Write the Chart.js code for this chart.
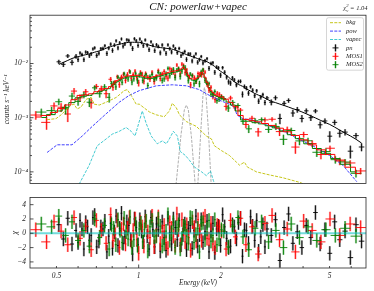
<!DOCTYPE html>
<html>
<head>
<meta charset="utf-8">
<title>CN: powerlaw+vapec</title>
<script src="https://cdn.jsdelivr.net/npm/chart.js@4.4.1/dist/chart.umd.min.js"></script>
<style>
  html, body { margin: 0; padding: 0; background: #ffffff; }
  #wrap { position: relative; width: 374px; height: 291px; overflow: hidden; background: #fff; }
  #top { position: absolute; left: 0; top: 0; width: 374px; height: 190px; }
  #bot { position: absolute; left: 0; top: 189px; width: 374px; height: 102px; }
</style>
</head>
<body>
<div id="wrap">
  <canvas id="top" width="374" height="190"></canvas>
  <canvas id="bot" width="374" height="102"></canvas>
</div>
<script>
// ---------------- text / ticks ----------------
const titleText = 'CN: powerlaw+vapec';
const chiValue = '1.04';
const legendLabels = ['bkg', 'pow', 'vapec', 'pn', 'MOS1', 'MOS2'];
const xTickLabels = [0.5, 1, 2, 5];
const yTickValues = [1e-4, 1e-3, 1e-2];
const yTickText = ['10\u207B\u2074', '10\u207B\u00B3', '10\u207B\u00B2'];
const rTickValues = [-4, -2, 0, 2, 4];
const xMin = 0.4, xMax = 6.8;
const yMin = 6.1e-5, yMax = 0.078;
const rMin = -4.85, rMax = 5.0;

// ---------------- pn (EPIC-pn) ----------------
const pnE = [0.51,0.53,0.55,0.57,0.59,0.60,0.61,0.62,0.63,0.64,0.65,0.66,0.67,0.68,0.69,0.702,0.715,0.727,0.74,0.752,0.765,0.777,0.79,0.802,0.815,0.827,0.84,0.852,0.865,0.877,0.89,0.905,0.92,0.935,0.95,0.965,0.98,0.995,1.01,1.025,1.04,1.057,1.075,1.092,1.11,1.127,1.145,1.162,1.18,1.20,1.22,1.24,1.26,1.28,1.30,1.32,1.34,1.362,1.385,1.407,1.43,1.452,1.475,1.497,1.52,1.545,1.57,1.595,1.62,1.645,1.67,1.695,1.72,1.75,1.78,1.81,1.84,1.87,1.90,1.93,1.96,1.995,2.03,2.065,2.10,2.135,2.17,2.205,2.24,2.28,2.32,2.36,2.40,2.44,2.48,2.525,2.57,2.615,2.66,2.705,2.75,2.80,2.85,2.90,2.95,3.06,3.17,3.29,3.41,3.54,3.67,3.81,3.96,4.11,4.27,4.44,4.62,4.81,5.01,5.22,5.45,5.70,5.96,6.25,6.55];
const pnV = [0.01075,0.00966,0.01379,0.01054,0.01362,0.01183,0.01567,0.01467,0.01178,0.0163,0.01587,0.01389,0.01503,0.01858,0.01944,0.01408,0.0155,0.01876,0.01897,0.02124,0.01536,0.01926,0.0228,0.01747,0.02184,0.02622,0.01944,0.02408,0.0284,0.02087,0.02294,0.02741,0.02676,0.02292,0.01897,0.02865,0.02628,0.02154,0.02834,0.02468,0.02133,0.02723,0.02178,0.01805,0.02517,0.02174,0.0173,0.02219,0.0207,0.01576,0.022,0.01837,0.01543,0.02208,0.01885,0.01628,0.02111,0.01883,0.01587,0.01899,0.01395,0.01525,0.01667,0.01191,0.015,0.01501,0.01115,0.01342,0.01514,0.01053,0.01181,0.01348,0.01021,0.01128,0.01227,0.00816,0.01004,0.01034,0.0069,0.00859,0.00832,0.0061,0.00839,0.00692,0.00562,0.00459,0.00436,0.00543,0.00497,0.00404,0.00465,0.0047,0.00271,0.00376,0.00352,0.00284,0.00374,0.00322,0.00255,0.00314,0.00202,0.00239,0.00266,0.00191,0.00232,0.00193,0.00233,0.00097,0.00184,0.00208,0.00122,0.00141,0.00097,0.00134,0.001,0.00133,0.00074,0.00087,0.000456,0.00082,0.000516,0.000542,0.000241,0.000467,0.000288];
const pnErr = [0.00096,0.00105,0.00114,0.00124,0.00131,0.00121,0.0011,0.00112,0.00114,0.00116,0.00118,0.00121,0.00123,0.00126,0.0013,0.00133,0.00136,0.0014,0.00145,0.0015,0.00155,0.00159,0.00164,0.00168,0.00172,0.00176,0.0018,0.00182,0.00186,0.00188,0.00191,0.00194,0.00197,0.00198,0.00198,0.00198,0.00198,0.00198,0.00197,0.00193,0.00189,0.00184,0.0018,0.00175,0.00171,0.00167,0.00163,0.00161,0.00159,0.00158,0.00156,0.00154,0.00153,0.00151,0.0015,0.00148,0.00146,0.00142,0.00137,0.00133,0.00128,0.00124,0.00121,0.00117,0.00114,0.0011,0.00107,0.00104,0.00102,0.00098,0.00096,0.00094,0.00091,0.00089,0.00086,0.00082,0.00078,0.00074,0.0007,0.00066,0.00062,0.00065,0.00061,0.00058,0.00054,0.0005,0.00047,0.00044,0.00041,0.00039,0.00037,0.00036,0.00034,0.00032,0.00031,0.00029,0.00028,0.00027,0.00025,0.00024,0.00023,0.00023,0.00022,0.00021,0.0002,0.00024,0.00023,0.00021,0.0002,0.00019,0.00018,0.00017,0.00015,0.00014,0.00013,0.00012,0.00011,0.0001,0.000105,0.000094,0.000083,0.000073,0.000064,0.000056,0.000048];
const pnModel = [0.0096,0.0105,0.0114,0.0124,0.0131,0.0134,0.0137,0.0140,0.0143,0.01455,0.0148,0.0151,0.0154,0.0158,0.0162,0.0166,0.0170,0.0175,0.0181,0.0187,0.0194,0.0199,0.0205,0.0210,0.0215,0.0220,0.0225,0.0228,0.0232,0.0235,0.0239,0.0243,0.0246,0.0247,0.0247,0.0247,0.0247,0.0247,0.0246,0.0241,0.0236,0.0230,0.0225,0.0219,0.0214,0.0209,0.0204,0.0201,0.0199,0.0197,0.0195,0.0193,0.0191,0.0189,0.0187,0.0185,0.0182,0.0177,0.0171,0.0166,0.0160,0.0155,0.0151,0.0146,0.0142,0.0138,0.0134,0.0130,0.0127,0.0123,0.0120,0.0117,0.0114,0.0111,0.0108,0.0103,0.0098,0.0093,0.0088,0.0082,0.0077,0.0072,0.0068,0.0064,0.0060,0.0056,0.0052,0.0049,0.0046,0.00435,0.0041,0.00395,0.0038,0.0036,0.0034,0.00325,0.0031,0.00295,0.0028,0.0027,0.0026,0.0025,0.0024,0.0023,0.0022,0.0020,0.0019,0.00178,0.00168,0.00157,0.00147,0.00138,0.00128,0.00118,0.00108,0.00099,0.00090,0.00082,0.00075,0.00067,0.00059,0.00052,0.00046,0.00040,0.00034];
const pnChi = [1.2,-0.8,2.1,-1.5,0.4,-1.3,1.8,0.6,-2.2,1.5,0.9,-1.0,-0.3,2.2,2.5,-1.9,-1.1,0.9,0.6,1.7,-2.6,-0.4,1.4,-2.1,0.2,2.4,-1.7,0.7,2.8,-1.4,-0.5,1.6,1.1,-0.9,-2.9,2.0,0.8,-1.6,1.9,0.3,-1.2,2.3,-0.4,-2.2,2.2,0.5,-1.9,1.3,0.5,-2.5,1.6,-0.6,-2.4,2.1,0.1,-1.5,2.0,0.8,-0.9,1.8,-1.6,-0.2,1.3,-2.3,0.7,1.1,-2.1,0.4,2.4,-1.8,-0.2,1.9,-1.3,0.2,1.7,-2.6,0.3,1.4,-2.7,0.6,1.0,-1.7,2.6,0.9,-0.7,-2.0,-1.8,1.2,0.9,-0.8,1.5,2.1,-3.2,0.5,0.4,-1.4,2.3,1.0,-1.0,1.8,-2.5,-0.5,1.2,-1.9,0.6,-0.3,1.9,-3.8,0.8,2.7,-1.4,0.2,-2.0,1.1,-0.6,2.9,-1.5,0.5,-2.8,1.6,-0.9,0.3,-3.4,1.2,-1.1];

// ---------------- MOS1 ----------------
const mos1E = [0.42,0.46,0.49,0.52,0.55,0.58,0.61,0.64,0.67,0.70,0.73,0.76,0.79,0.805,0.82,0.835,0.85,0.865,0.88,0.895,0.91,0.925,0.94,0.955,0.97,0.985,1.00,1.015,1.03,1.045,1.06,1.08,1.10,1.12,1.14,1.16,1.18,1.20,1.22,1.24,1.26,1.28,1.30,1.32,1.34,1.36,1.38,1.40,1.42,1.44,1.46,1.48,1.50,1.525,1.55,1.575,1.60,1.625,1.65,1.675,1.70,1.725,1.75,1.78,1.81,1.84,1.87,1.905,1.94,1.975,2.01,2.09,2.17,2.26,2.36,2.47,2.60,2.74,2.90,3.08,3.28,3.50,3.75,4.02,4.32,4.65,5.02,5.45,5.95,6.5];
const mos1V = [1.12e-3,8.2e-4,1.65e-3,1.56e-3,1.17e-3,3.1e-3,2.33e-3,3.01e-3,1.87e-3,3.78e-3,3.43e-3,2.77e-3,5.12e-3,3.65e-3,4.51e-3,5.72e-3,4.08e-3,5.67e-3,6.33e-3,4.89e-3,6.31e-3,7.26e-3,5.34e-3,6.26e-3,7.26e-3,5.53e-3,4.39e-3,6.9e-3,6.43e-3,4.72e-3,6.55e-3,5.61e-3,5.12e-3,6.94e-3,4.66e-3,5.72e-3,7.44e-3,5.31e-3,6.43e-3,7.16e-3,5.74e-3,5.37e-3,8.05e-3,7.62e-3,6.96e-3,6.08e-3,9.4e-3,7.98e-3,6.47e-3,9.76e-3,9.12e-3,6.78e-3,7.62e-3,5.64e-3,4.03e-3,6.03e-3,5.51e-3,4.72e-3,6.55e-3,6.39e-3,6.21e-3,7.56e-3,6.94e-3,4.19e-3,3.22e-3,3.65e-3,2.47e-3,2.16e-3,2.83e-3,2.69e-3,2.47e-3,1.62e-3,2.31e-3,1.52e-3,1.38e-3,7.5e-4,9.75e-4,5.48e-4,9.11e-4,9.36e-4,5.54e-4,6.0e-4,2.87e-4,4.89e-4,3.34e-4,2.09e-4,2.73e-4,1.58e-4,1.46e-4,1.04e-4];
const mos1Err = [2.0e-4,2.2e-4,2.5e-4,2.9e-4,3.4e-4,4.3e-4,3.6e-4,3.7e-4,3.9e-4,4.2e-4,4.6e-4,4.8e-4,5.3e-4,5.0e-4,4.6e-4,4.9e-4,5.1e-4,5.4e-4,5.6e-4,5.8e-4,5.9e-4,6.0e-4,6.0e-4,6.0e-4,6.1e-4,6.1e-4,6.1e-4,6.0e-4,5.9e-4,5.8e-4,5.6e-4,5.5e-4,5.5e-4,5.6e-4,5.8e-4,5.9e-4,6.1e-4,6.2e-4,6.3e-4,6.5e-4,6.6e-4,6.8e-4,7.0e-4,7.1e-4,7.3e-4,7.3e-4,7.4e-4,7.6e-4,7.8e-4,8.2e-4,8.6e-4,7.7e-4,6.8e-4,6.0e-4,5.3e-4,5.2e-4,5.1e-4,5.3e-4,5.5e-4,6.2e-4,6.9e-4,6.3e-4,5.6e-4,4.5e-4,3.5e-4,3.2e-4,2.9e-4,2.7e-4,2.6e-4,2.5e-4,2.4e-4,2.6e-4,2.3e-4,1.9e-4,1.3e-4,1.1e-4,1.06e-4,1.0e-4,9.4e-5,8.6e-5,9.6e-5,8.3e-5,7.1e-5,5.9e-5,4.7e-5,3.8e-5,3.2e-5,2.5e-5,1.8e-5,1.4e-5];
const mos1Model = [1.03e-3,1.1e-3,1.25e-3,1.47e-3,1.72e-3,2.15e-3,2.58e-3,2.64e-3,2.76e-3,3.02e-3,3.25e-3,3.45e-3,3.75e-3,4.15e-3,4.6e-3,4.85e-3,5.1e-3,5.35e-3,5.6e-3,5.75e-3,5.9e-3,5.95e-3,6.0e-3,6.02e-3,6.05e-3,6.08e-3,6.1e-3,6.0e-3,5.9e-3,5.75e-3,5.6e-3,5.5e-3,5.45e-3,5.6e-3,5.75e-3,5.9e-3,6.05e-3,6.18e-3,6.3e-3,6.45e-3,6.6e-3,6.8e-3,7.0e-3,7.12e-3,7.25e-3,7.32e-3,7.4e-3,7.6e-3,7.8e-3,8.2e-3,8.6e-3,7.7e-3,6.8e-3,6.0e-3,5.3e-3,5.2e-3,5.1e-3,5.3e-3,5.5e-3,6.2e-3,6.9e-3,6.3e-3,5.6e-3,4.5e-3,3.5e-3,3.2e-3,2.9e-3,2.7e-3,2.55e-3,2.47e-3,2.4e-3,2.2e-3,1.9e-3,1.62e-3,1.1e-3,9.3e-4,8.8e-4,8.4e-4,7.8e-4,7.2e-4,6.4e-4,5.5e-4,4.7e-4,3.9e-4,3.15e-4,2.55e-4,2.1e-4,1.65e-4,1.22e-4,9.3e-5];
const mos1Chi = [0.5,-1.2,1.6,0.3,-1.6,2.2,-0.7,1.0,-2.3,1.8,0.4,-1.4,2.6,-1.0,-0.2,1.8,-2.0,0.6,1.3,-1.5,0.7,2.2,-1.1,0.4,2.0,-0.9,-2.8,1.5,0.9,-1.8,1.7,0.2,-0.6,2.4,-1.9,-0.3,2.3,-1.4,0.2,1.1,-1.3,-2.1,1.5,0.7,-0.4,-1.7,2.7,0.5,-1.7,1.9,0.6,-1.2,1.2,-0.6,-2.4,1.6,0.8,-1.1,1.9,0.3,-1.0,2.0,2.4,-0.7,-0.8,1.4,-1.5,-2.0,1.1,0.9,0.3,-2.2,1.8,-0.5,2.1,-1.6,0.9,-2.9,1.4,2.5,-0.9,0.6,-2.6,1.7,0.4,-1.2,2.0,-0.3,1.3,0.8];

// ---------------- MOS2 ----------------
const mos2E = [0.44,0.48,0.51,0.54,0.57,0.60,0.63,0.66,0.69,0.72,0.75,0.78,0.795,0.81,0.825,0.84,0.855,0.87,0.885,0.90,0.915,0.93,0.945,0.96,0.975,0.99,1.005,1.02,1.035,1.05,1.065,1.08,1.10,1.12,1.14,1.16,1.18,1.20,1.22,1.24,1.26,1.28,1.30,1.32,1.34,1.36,1.38,1.40,1.42,1.44,1.46,1.48,1.50,1.52,1.545,1.57,1.595,1.62,1.645,1.67,1.695,1.72,1.75,1.78,1.81,1.84,1.87,1.90,1.935,1.97,2.01,2.05,2.13,2.21,2.31,2.41,2.53,2.67,2.82,2.99,3.18,3.39,3.62,3.88,4.17,4.49,4.85,5.25,5.70,6.25];
const mos2V = [1.27e-3,1.35e-3,1.97e-3,1.46e-3,2.51e-3,2.0e-3,2.63e-3,1.93e-3,3.56e-3,2.77e-3,3.7e-3,2.38e-3,4.29e-3,4.38e-3,3.7e-3,5.59e-3,5.15e-3,4.51e-3,6.51e-3,5.68e-3,5.18e-3,6.99e-3,4.56e-3,5.21e-3,6.5e-3,4.8e-3,6.06e-3,6.44e-3,4.87e-3,5.69e-3,6.22e-3,3.92e-3,5.74e-3,6.28e-3,5.18e-3,5.38e-3,6.86e-3,6.42e-3,4.9e-3,5.21e-3,6.49e-3,8.14e-3,5.94e-3,6.82e-3,7.88e-3,5.55e-3,7.59e-3,7.99e-3,5.81e-3,7.24e-3,8.69e-3,8.53e-3,6.43e-3,4.82e-3,6.41e-3,5.98e-3,4.22e-3,4.66e-3,5.56e-3,4.22e-3,7.07e-3,7.65e-3,4.91e-3,4.43e-3,4.25e-3,2.71e-3,2.72e-3,3.06e-3,2.07e-3,2.19e-3,2.39e-3,2.26e-3,1.51e-3,1.92e-3,1.68e-3,8.55e-4,6.23e-4,8.78e-4,9.18e-4,6.08e-4,6.89e-4,3.99e-4,5.8e-4,3.73e-4,3.75e-4,2.3e-4,2.37e-4,1.68e-4,1.52e-4,9.4e-5];
const mos2Err = [2.0e-4,2.3e-4,2.7e-4,3.1e-4,3.8e-4,3.3e-4,3.5e-4,3.6e-4,3.9e-4,4.2e-4,4.5e-4,4.8e-4,4.5e-4,4.1e-4,4.4e-4,4.7e-4,5.0e-4,5.2e-4,5.4e-4,5.6e-4,5.6e-4,5.7e-4,5.7e-4,5.7e-4,5.8e-4,5.8e-4,5.7e-4,5.7e-4,5.5e-4,5.4e-4,5.3e-4,5.2e-4,5.3e-4,5.3e-4,5.5e-4,5.6e-4,5.7e-4,5.8e-4,6.0e-4,6.1e-4,6.3e-4,6.5e-4,6.6e-4,6.8e-4,6.9e-4,6.9e-4,7.0e-4,7.1e-4,7.5e-4,7.8e-4,7.9e-4,7.9e-4,6.7e-4,5.6e-4,5.3e-4,4.9e-4,4.9e-4,4.8e-4,5.2e-4,5.7e-4,6.2e-4,6.7e-4,5.4e-4,4.2e-4,3.6e-4,3.0e-4,2.8e-4,2.6e-4,2.5e-4,2.4e-4,2.3e-4,2.2e-4,2.3e-4,2.1e-4,1.6e-4,1.1e-4,1.03e-4,9.7e-5,9.2e-5,8.5e-5,9.8e-5,8.6e-5,7.3e-5,6.2e-5,5.0e-5,4.1e-5,3.3e-5,2.6e-5,2.1e-5,1.5e-5];
const mos2Model = [1.01e-3,1.14e-3,1.33e-3,1.55e-3,1.9e-3,2.33e-3,2.49e-3,2.58e-3,2.78e-3,3.02e-3,3.21e-3,3.44e-3,3.75e-3,4.09e-3,4.4e-3,4.7e-3,4.95e-3,5.18e-3,5.38e-3,5.57e-3,5.63e-3,5.68e-3,5.7e-3,5.73e-3,5.75e-3,5.78e-3,5.72e-3,5.65e-3,5.53e-3,5.42e-3,5.32e-3,5.23e-3,5.27e-3,5.32e-3,5.45e-3,5.6e-3,5.72e-3,5.84e-3,5.98e-3,6.13e-3,6.3e-3,6.46e-3,6.6e-3,6.75e-3,6.85e-3,6.94e-3,7.03e-3,7.13e-3,7.45e-3,7.79e-3,7.9e-3,7.9e-3,6.7e-3,5.6e-3,5.25e-3,4.94e-3,4.85e-3,4.75e-3,5.2e-3,5.7e-3,6.2e-3,6.65e-3,5.4e-3,4.18e-3,3.6e-3,3.04e-3,2.8e-3,2.57e-3,2.47e-3,2.38e-3,2.28e-3,2.19e-3,1.95e-3,1.71e-3,1.33e-3,9.1e-4,8.6e-4,8.1e-4,7.7e-4,7.1e-4,6.5e-4,5.7e-4,4.85e-4,4.1e-4,3.3e-4,2.7e-4,2.2e-4,1.76e-4,1.38e-4,1.0e-4];
const mos2Chi = [1.3,0.9,2.4,-0.3,1.6,-1.0,0.4,-1.8,2.0,-0.6,1.1,-2.2,1.2,0.7,-1.6,1.9,0.4,-1.3,2.1,0.2,-0.8,2.3,-2.0,-0.9,1.3,-1.7,0.6,1.4,-1.2,0.5,1.7,-2.5,0.9,1.8,-0.5,-0.4,2.0,1.0,-1.8,-1.5,0.3,2.6,-1.0,0.1,1.5,-2.0,0.8,1.2,-2.2,-0.7,1.0,0.8,-0.4,-1.4,2.2,2.1,-1.3,-0.2,0.7,-2.6,1.4,1.5,-0.9,0.6,1.8,-1.1,-0.3,1.9,-1.6,-0.8,0.5,0.3,-1.9,1.0,2.2,-0.5,-2.3,0.7,1.6,-1.2,0.4,-2.0,1.3,-0.6,0.9,-1.0,0.5,-0.3,0.7,-0.4];

// ---------------- model components ----------------
const bkgE = [0.462,0.498,0.52,0.542,0.566,0.58,0.595,0.615,0.642,0.67,0.687,0.717,0.76,0.828,0.885,0.908,0.939,0.979,1.005,1.094,1.16,1.241,1.295,1.328,1.375,1.41,1.495,1.627,1.77,1.847,1.894,2.01,2.15,2.28,2.34,2.44,2.50,2.70,3.01,3.37,3.89,4.23];
const bkgV = [9.2e-4,9.6e-4,1.13e-3,1.39e-3,1.71e-3,1.78e-3,1.45e-3,1.57e-3,2.18e-3,2.37e-3,1.78e-3,1.71e-3,1.93e-3,2.37e-3,3.16e-3,3.3e-3,2.58e-3,1.78e-3,1.78e-3,1.28e-3,1.13e-3,1.04e-3,1.33e-3,1.85e-3,1.51e-3,1.13e-3,8.5e-4,6.9e-4,4.58e-4,4.05e-4,3.03e-4,2.47e-4,2.01e-4,1.51e-4,1.33e-4,1.51e-4,1.23e-4,1.0e-4,8.8e-5,7.8e-5,6.4e-5,5.4e-5];
const powE = [0.462,0.503,0.57,0.621,0.676,0.76,0.849,0.923,1.005,1.16,1.328,1.495,1.668,1.816,1.976,2.15,2.24,2.29,2.40,2.55,2.84,3.28,3.79,4.34,5.0,5.59,6.29];
const powV = [2.28e-4,3.16e-4,3.16e-4,4.58e-4,6.9e-4,1.18e-3,1.93e-3,2.58e-3,3.16e-3,3.88e-3,4.05e-3,3.88e-3,3.3e-3,2.58e-3,2.1e-3,1.78e-3,1.57e-3,1.13e-3,9.6e-4,9.2e-4,7.8e-4,6.1e-4,4.2e-4,3.03e-4,2.01e-4,1.33e-4,6.6e-5];
const vapecE = [0.605,0.659,0.705,0.76,0.80,0.849,0.90,0.939,0.97,1.031,1.066,1.112,1.17,1.221,1.263,1.295,1.34,1.386,1.421,1.483,1.534,1.60,1.70,1.77,1.832,1.878,1.925];
const vapecV = [5.9e-5,1.33e-4,3.03e-4,4.05e-4,4.97e-4,5.6e-4,6.6e-4,5.6e-4,4.6e-4,1.33e-3,7.8e-4,4.58e-4,3.3e-4,3.73e-4,3.3e-4,4.05e-4,5.6e-4,4.58e-4,2.37e-4,2.01e-4,1.64e-4,1.23e-4,1.0e-4,8.5e-5,1.04e-4,6.9e-5,4.8e-5];
const gau1E = [1.36,1.43,1.47,1.495,1.52,1.56,1.62];
const gau1V = [4e-5,5e-4,1.4e-3,1.71e-3,1.4e-3,4.5e-4,4e-5];
const gau2E = [1.64,1.69,1.72,1.741,1.765,1.80,1.85];
const gau2V = [4e-5,6e-4,2.6e-3,3.6e-3,2.6e-3,6e-4,4e-5];

// ---------------- helpers ----------------
const FONT = "'Liberation Serif', 'DejaVu Serif', serif";
const INK = '#262626';
const tickFont = {family: FONT, size: 7.5, style: 'italic'};

function pts(xs, ys) { return xs.map((x, i) => ({x: x, y: ys[i]})); }
function lineDs(label, xs, ys, color, dash, width, stepped) {
  return {label, data: pts(xs, ys), borderColor: color, backgroundColor: color, borderWidth: width,
    borderDash: dash, pointRadius: 0, pointHoverRadius: 0, fill: false, tension: 0, showLine: true,
    stepped: stepped || false};
}
function dataDs(label, xs, ys, errs, color, errColor) {
  return {label, data: pts(xs, ys), errs: errs, errorBars: true, markColor: color, errColor: errColor,
    borderColor: color, backgroundColor: color, showLine: false, pointRadius: 0, pointHoverRadius: 0};
}
function resDs(label, xs, chis, color, errColor) {
  return {label, data: pts(xs, chis), unitErr: true, errorBars: true, markColor: color, errColor: errColor,
    borderColor: color, backgroundColor: color, showLine: false, pointRadius: 0, pointHoverRadius: 0};
}
function binEdges(xs, i) {
  const e = xs[i];
  let lo, hi;
  if (i > 0) lo = Math.sqrt(xs[i - 1] * e);
  if (i < xs.length - 1) hi = Math.sqrt(xs[i + 1] * e);
  if (lo === undefined) lo = e * e / hi;
  if (hi === undefined) hi = e * e / lo;
  return [lo, hi];
}
function isDecade(v) { const l = Math.log10(v); return Math.abs(l - Math.round(l)) < 1e-6; }
function isIntMantissa(v) { const m = v / Math.pow(10, Math.floor(Math.log10(v) + 1e-9)); return Math.abs(m - Math.round(m)) < 1e-6; }

// ---------------- plugins ----------------
const errorBarPlugin = {
  id: 'errbars',
  beforeDatasetsDraw(chart) {
    const {ctx, chartArea: a} = chart;
    const xs = chart.scales.x, ys = chart.scales.y;
    ctx.save();
    ctx.beginPath(); ctx.rect(a.left, a.top, a.right - a.left, a.bottom - a.top); ctx.clip();
    chart.data.datasets.forEach(ds => {
      if (!ds.errorBars) return;
      const E = ds.data.map(p => p.x);
      const segs = ds.data.map((p, i) => {
        const [lo, hi] = binEdges(E, i);
        const err = ds.unitErr ? 1 : ds.errs[i];
        const top = p.y + err, bot = p.y - err;
        return {
          x: xs.getPixelForValue(p.x), xl: xs.getPixelForValue(lo), xr: xs.getPixelForValue(hi),
          y: ys.getPixelForValue(p.y), yt: ys.getPixelForValue(top),
          yb: (ds.unitErr || bot > 0) ? ys.getPixelForValue(bot) : a.bottom + 5
        };
      });
      ctx.lineCap = 'butt';
      ctx.strokeStyle = ds.errColor; ctx.lineWidth = 2.2;
      ctx.beginPath();
      segs.forEach(s => { ctx.moveTo(s.x, s.yt); ctx.lineTo(s.x, s.yb); });
      ctx.stroke();
      ctx.strokeStyle = ds.markColor; ctx.lineWidth = 0.9;
      ctx.beginPath();
      segs.forEach(s => { ctx.moveTo(s.xl, s.y); ctx.lineTo(s.xr, s.y); ctx.moveTo(s.x, s.yt); ctx.lineTo(s.x, s.yb); });
      ctx.stroke();
    });
    ctx.restore();
  }
};

const framePlugin = {
  id: 'frameTicks',
  afterDraw(chart, args, opts) {
    const {ctx, chartArea: a} = chart;
    ctx.save();
    ctx.strokeStyle = INK; ctx.lineWidth = 0.8;
    ctx.beginPath();
    const ys = chart.scales.y;
    ys.ticks.forEach(t => {
      const p = ys.getPixelForValue(t.value);
      if (p <= a.top + 0.5 || p >= a.bottom - 0.5) return;
      let len = 3.5;
      if (opts.yLog) {
        if (!isIntMantissa(t.value)) return;
        len = isDecade(t.value) ? 3.5 : 2;
      }
      ctx.moveTo(a.left, p); ctx.lineTo(a.left + len, p);
    });
    if (opts.xTicks) {
      const xs = chart.scales.x;
      xs.ticks.forEach(t => {
        const p = xs.getPixelForValue(t.value);
        if (p <= a.left + 0.5 || p >= a.right - 0.5) return;
        if (!isIntMantissa(t.value)) return;
        const len = isDecade(t.value) ? 3.5 : 2;
        ctx.moveTo(p, a.bottom); ctx.lineTo(p, a.bottom - len);
      });
    }
    ctx.stroke();
    ctx.strokeRect(a.left, a.top, a.right - a.left, a.bottom - a.top);
    ctx.restore();
  }
};

const legendPlugin = {
  id: 'boxLegend',
  afterDraw(chart) {
    const {ctx, chartArea: a} = chart;
    const items = legendLabels.map(l => chart.data.datasets.find(d => d.label === l));
    const rowH = 8.4, w = 37, h = 52.5;
    const x0 = a.right - 39.5, y0 = a.top + 2.5;
    ctx.save();
    ctx.fillStyle = 'rgba(255,255,255,0.8)'; ctx.strokeStyle = '#cccccc'; ctx.lineWidth = 0.8;
    const r = 2;
    ctx.beginPath();
    ctx.moveTo(x0 + r, y0); ctx.lineTo(x0 + w - r, y0); ctx.quadraticCurveTo(x0 + w, y0, x0 + w, y0 + r);
    ctx.lineTo(x0 + w, y0 + h - r); ctx.quadraticCurveTo(x0 + w, y0 + h, x0 + w - r, y0 + h);
    ctx.lineTo(x0 + r, y0 + h); ctx.quadraticCurveTo(x0, y0 + h, x0, y0 + h - r);
    ctx.lineTo(x0, y0 + r); ctx.quadraticCurveTo(x0, y0, x0 + r, y0); ctx.closePath();
    ctx.fill(); ctx.stroke();
    ctx.font = 'italic 6.6px ' + FONT; ctx.textBaseline = 'middle'; ctx.textAlign = 'left';
    items.forEach((ds, i) => {
      const cy = y0 + 5 + i * rowH;
      const hx0 = x0 + 3.5, hx1 = x0 + 14.5, hc = (hx0 + hx1) / 2;
      if (ds.errorBars) {
        ctx.setLineDash([]);
        ctx.strokeStyle = ds.errColor; ctx.lineWidth = 2.2;
        ctx.beginPath(); ctx.moveTo(hc, cy - 3.5); ctx.lineTo(hc, cy + 3.5); ctx.stroke();
        ctx.strokeStyle = ds.markColor; ctx.lineWidth = 0.9;
        ctx.beginPath(); ctx.moveTo(hc - 3, cy); ctx.lineTo(hc + 3, cy); ctx.moveTo(hc, cy - 3.5); ctx.lineTo(hc, cy + 3.5); ctx.stroke();
      } else {
        ctx.strokeStyle = ds.borderColor; ctx.lineWidth = ds.borderWidth; ctx.setLineDash(ds.borderDash);
        ctx.beginPath(); ctx.moveTo(hx0, cy); ctx.lineTo(hx1, cy); ctx.stroke();
        ctx.setLineDash([]);
      }
      ctx.fillStyle = INK;
      ctx.fillText(ds.label, x0 + 19.5, cy);
    });
    ctx.restore();
  }
};

const chiPlugin = {
  id: 'chiText',
  afterDraw(chart) {
    const ctx = chart.ctx, a = chart.chartArea;
    const big = 'italic 6.5px ' + FONT, sm = 'italic 4.6px ' + FONT;
    ctx.save();
    ctx.fillStyle = INK; ctx.textBaseline = 'alphabetic'; ctx.textAlign = 'left';
    ctx.font = big;
    const wChi = ctx.measureText('\u03C7').width;
    const eq = ' = ' + chiValue;
    const wEq = ctx.measureText(eq).width;
    ctx.font = sm;
    const wS = Math.max(ctx.measureText('2').width, ctx.measureText('\u03BD').width);
    let x = a.right + 1.5 - (wChi + wS + wEq);
    const base = 10.2;
    ctx.font = big; ctx.fillText('\u03C7', x, base); x += wChi;
    ctx.font = sm; ctx.fillText('2', x, base - 3); ctx.fillText('\u03BD', x, base + 1.6); x += wS;
    ctx.font = big; ctx.fillText(eq, x, base);
    ctx.restore();
  }
};

const zeroLine = {
  id: 'zeroLine',
  afterDatasetsDraw(chart) {
    const {ctx, chartArea: a, scales: {y}} = chart;
    const p = y.getPixelForValue(0);
    ctx.save();
    ctx.strokeStyle = 'rgba(0,191,191,0.55)'; ctx.lineWidth = 2;
    ctx.beginPath(); ctx.moveTo(a.left, p); ctx.lineTo(a.right, p); ctx.stroke();
    ctx.restore();
  }
};

// ---------------- main panel ----------------
new Chart(document.getElementById('top'), {
  type: 'line',
  data: {
    datasets: [
      lineDs('pn model', pnE, pnModel, '#000000', [], 1),
      lineDs('MOS1 model', mos1E, mos1Model, '#ff0000', [], 1, 'middle'),
      lineDs('MOS2 model', mos2E, mos2Model, '#008000', [], 1, 'middle'),
      lineDs('bkg', bkgE, bkgV, '#bfbf00', [3, 1.3], 0.9),
      lineDs('pow', powE, powV, '#2b2bff', [3, 1.3], 0.9),
      lineDs('vapec', vapecE, vapecV, '#2ec4cc', [3, 1.3], 0.9),
      lineDs('gaussian 1', gau1E, gau1V, '#9a9a9a', [3, 1.3], 0.8),
      lineDs('gaussian 2', gau2E, gau2V, '#9a9a9a', [3, 1.3], 0.8),
      dataDs('pn', pnE, pnV, pnErr, '#000000', 'rgba(0,0,0,0.33)'),
      dataDs('MOS1', mos1E, mos1V, mos1Err, '#ff0000', 'rgba(255,0,0,0.33)'),
      dataDs('MOS2', mos2E, mos2V, mos2Err, '#008000', 'rgba(0,128,0,0.33)')
    ]
  },
  options: {
    responsive: false, animation: false, devicePixelRatio: 1, events: [],
    layout: {padding: {left: 0, right: 8, top: 0, bottom: 1}},
    plugins: {
      legend: {display: false}, tooltip: {enabled: false},
      title: {display: true, text: titleText, fullSize: false, color: '#111',
        font: {family: FONT, size: 11, style: 'italic', weight: 'normal'}, padding: {top: 1, bottom: 1}},
      frameTicks: {yLog: true, xTicks: false}
    },
    scales: {
      x: {type: 'logarithmic', display: false, min: xMin, max: xMax},
      y: {type: 'logarithmic', min: yMin, max: yMax,
        grid: {display: false, drawTicks: false}, border: {display: false},
        ticks: {autoSkip: false, padding: 2, color: INK, font: tickFont,
          callback: function (v) {
            const i = yTickValues.findIndex(t => Math.abs(t - v) < 1e-6 * t);
            return i >= 0 ? yTickText[i] : '';
          }},
        title: {display: true, text: 'counts s\u207B\u00B9 keV\u207B\u00B9', color: INK,
          font: {family: FONT, size: 7.5, style: 'italic'}, padding: {top: 2.5, bottom: 0}},
        afterFit: s => { s.width = 30; }
      }
    }
  },
  plugins: [errorBarPlugin, framePlugin, legendPlugin, chiPlugin]
});

// ---------------- residual panel ----------------
new Chart(document.getElementById('bot'), {
  type: 'line',
  data: {
    datasets: [
      resDs('pn', pnE, pnChi, '#000000', 'rgba(0,0,0,0.33)'),
      resDs('MOS1', mos1E, mos1Chi, '#ff0000', 'rgba(255,0,0,0.33)'),
      resDs('MOS2', mos2E, mos2Chi, '#008000', 'rgba(0,128,0,0.33)')
    ]
  },
  options: {
    responsive: false, animation: false, devicePixelRatio: 1, events: [],
    layout: {padding: {left: 0, right: 8, top: 0, bottom: 0}},
    plugins: {legend: {display: false}, tooltip: {enabled: false}, title: {display: false},
      frameTicks: {yLog: false, xTicks: true}},
    scales: {
      x: {type: 'logarithmic', min: xMin, max: xMax,
        grid: {display: false, drawTicks: false}, border: {display: false},
        ticks: {autoSkip: false, maxRotation: 0, minRotation: 0, padding: 4, color: INK, font: tickFont,
          callback: function (v) {
            const i = xTickLabels.findIndex(t => Math.abs(t - v) < 1e-6 * t);
            return i >= 0 ? String(xTickLabels[i]) : '';
          }},
        title: {display: true, text: 'Energy (keV)', color: INK,
          font: {family: FONT, size: 7.2, style: 'italic'}, padding: {top: 0, bottom: 3.7}},
        afterFit: s => { s.height = 23; }
      },
      y: {type: 'linear', min: rMin, max: rMax,
        grid: {display: false, drawTicks: false}, border: {display: false},
        afterBuildTicks: s => { s.ticks = rTickValues.map(v => ({value: v})); },
        ticks: {autoSkip: false, padding: 4, color: INK, font: tickFont,
          callback: v => (v < 0 ? '\u2212' + Math.abs(v) : String(v))},
        title: {display: true, text: '\u03C7', color: INK,
          font: {family: FONT, size: 8, style: 'italic'}, padding: {top: 10, bottom: 0}},
        afterFit: s => { s.width = 30; }
      }
    }
  },
  plugins: [errorBarPlugin, zeroLine, framePlugin]
});
</script>
</body>
</html>
